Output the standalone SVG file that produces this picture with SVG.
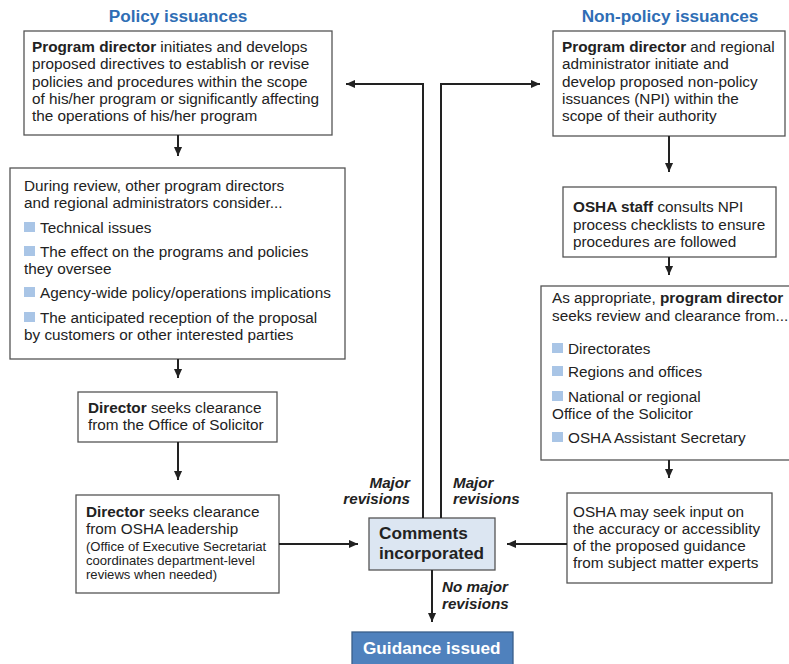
<svg xmlns="http://www.w3.org/2000/svg" width="789" height="664" viewBox="0 0 789 664">
<style>
text{font-family:"Liberation Sans",Arial,sans-serif;fill:#222}
.t{font-size:15.3px}
.s{font-size:13.1px}
.b{font-weight:bold}
.h{font-size:17.2px;font-weight:bold;fill:#2F6EB5}
.lbl{font-size:15.2px;font-weight:bold;font-style:italic}
.box{fill:#fff;stroke:#555;stroke-width:1.3}
.bul{fill:#A9C5E6}
.c{fill:none;stroke:#222;stroke-width:2}
</style>
<defs>
<marker id="ah" viewBox="0 0 10 10" refX="10" refY="5" markerWidth="9" markerHeight="9" markerUnits="userSpaceOnUse" orient="auto">
<path d="M0,0.5 L10,5 L0,9.5 z" fill="#222"/>
</marker>
</defs>

<text class="h" x="178" y="22" text-anchor="middle">Policy issuances</text>
<text class="h" x="670" y="22" text-anchor="middle">Non-policy issuances</text>

<g id="p1">
<rect class="box" x="24" y="31" width="308" height="104"/>
<text class="t" x="32"><tspan x="32" y="52"><tspan class="b">Program director</tspan> initiates and develops</tspan><tspan x="32" y="69">proposed directives to establish or revise</tspan><tspan x="32" y="87">policies and procedures within the scope</tspan><tspan x="32" y="104">of his/her program or significantly affecting</tspan><tspan x="32" y="121">the operations of his/her program</tspan></text>
</g>

<g id="p2">
<rect class="box" x="10" y="168" width="335" height="191"/>
<text class="t"><tspan x="24" y="191">During review, other program directors</tspan><tspan x="24" y="208">and regional administrators consider...</tspan></text>
<rect class="bul" x="24" y="222" width="11" height="10"/>
<text class="t" x="40" y="233">Technical issues</text>
<rect class="bul" x="24" y="246" width="11" height="10"/>
<text class="t"><tspan x="40" y="257">The effect on the programs and policies</tspan><tspan x="24" y="274">they oversee</tspan></text>
<rect class="bul" x="24" y="287" width="11" height="10"/>
<text class="t" x="40" y="298">Agency-wide policy/operations implications</text>
<rect class="bul" x="24" y="312" width="11" height="10"/>
<text class="t"><tspan x="40" y="323">The anticipated reception of the proposal</tspan><tspan x="24" y="340">by customers or other interested parties</tspan></text>
</g>

<g id="p3">
<rect class="box" x="78" y="392" width="199" height="50"/>
<text class="t"><tspan x="88" y="413"><tspan class="b">Director</tspan> seeks clearance</tspan><tspan x="88" y="430">from the Office of Solicitor</tspan></text>
</g>

<g id="p4">
<rect class="box" x="76" y="495" width="203" height="98"/>
<text class="t"><tspan x="86" y="517"><tspan class="b">Director</tspan> seeks clearance</tspan><tspan x="86" y="534">from OSHA leadership</tspan></text>
<text class="s"><tspan x="86" y="551">(Office of Executive Secretariat</tspan><tspan x="86" y="565">coordinates department-level</tspan><tspan x="86" y="579">reviews when needed)</tspan></text>
</g>

<g id="comments">
<rect x="369" y="518" width="126" height="52" fill="#DCE6F2" stroke="#555" stroke-width="1.3"/>
<text style="font-size:17.2px;font-weight:bold"><tspan x="379" y="539">Comments</tspan><tspan x="379" y="559">incorporated</tspan></text>
</g>

<g id="issued">
<rect x="352" y="632" width="161" height="40" fill="#4F81BD" stroke="#3A5F8A" stroke-width="1.3"/>
<text x="363" y="654" style="font-size:17.2px;font-weight:bold;fill:#fff">Guidance issued</text>
</g>

<g id="n1">
<rect class="box" x="553" y="31" width="232" height="105"/>
<text class="t"><tspan x="562" y="52"><tspan class="b">Program director</tspan> and regional</tspan><tspan x="562" y="69">administrator initiate and</tspan><tspan x="562" y="87">develop proposed non-policy</tspan><tspan x="562" y="104">issuances (NPI) within the</tspan><tspan x="562" y="121">scope of their authority</tspan></text>
</g>

<g id="n2">
<rect class="box" x="563" y="187" width="213" height="70"/>
<text class="t"><tspan x="573" y="212"><tspan class="b">OSHA staff</tspan> consults NPI</tspan><tspan x="573" y="230">process checklists to ensure</tspan><tspan x="573" y="247">procedures are followed</tspan></text>
</g>

<g id="n3">
<rect class="box" x="541" y="286" width="260" height="174"/>
<text class="t"><tspan x="552" y="303">As appropriate, <tspan class="b">program director</tspan></tspan><tspan x="552" y="321">seeks review and clearance from...</tspan></text>
<rect class="bul" x="552" y="343" width="11" height="10"/>
<text class="t" x="568" y="354">Directorates</text>
<rect class="bul" x="552" y="366" width="11" height="10"/>
<text class="t" x="568" y="377">Regions and offices</text>
<rect class="bul" x="552" y="391" width="11" height="10"/>
<text class="t"><tspan x="568" y="402">National or regional</tspan><tspan x="552" y="419">Office of the Solicitor</tspan></text>
<rect class="bul" x="552" y="432" width="11" height="10"/>
<text class="t" x="568" y="443">OSHA Assistant Secretary</text>
</g>

<g id="n4">
<rect class="box" x="567" y="493" width="205" height="90"/>
<text class="t"><tspan x="573" y="517">OSHA may seek input on</tspan><tspan x="573" y="534">the accuracy or accessiblity</tspan><tspan x="573" y="551">of the proposed guidance</tspan><tspan x="573" y="568">from subject matter experts</tspan></text>
</g>

<g id="connectors">
<path class="c" d="M178,135 V156" marker-end="url(#ah)"/>
<path class="c" d="M178,359 V378" marker-end="url(#ah)"/>
<path class="c" d="M178,442 V480" marker-end="url(#ah)"/>
<path class="c" d="M279,544 H358" marker-end="url(#ah)"/>
<path class="c" d="M423,518 V84 H346" marker-end="url(#ah)"/>
<path class="c" d="M441,518 V84 H540" marker-end="url(#ah)"/>
<path class="c" d="M432,570 V622" marker-end="url(#ah)"/>
<path class="c" d="M567,544 H507" marker-end="url(#ah)"/>
<path class="c" d="M669,136 V172" marker-end="url(#ah)"/>
<path class="c" d="M669,257 V275" marker-end="url(#ah)"/>
<path class="c" d="M669,460 V478" marker-end="url(#ah)"/>
<text class="lbl" text-anchor="end"><tspan x="410" y="488">Major</tspan><tspan x="410" y="504">revisions</tspan></text>
<text class="lbl"><tspan x="453" y="488">Major</tspan><tspan x="453" y="504">revisions</tspan></text>
<text class="lbl"><tspan x="442" y="592">No major</tspan><tspan x="442" y="609">revisions</tspan></text>
</g>
</svg>
